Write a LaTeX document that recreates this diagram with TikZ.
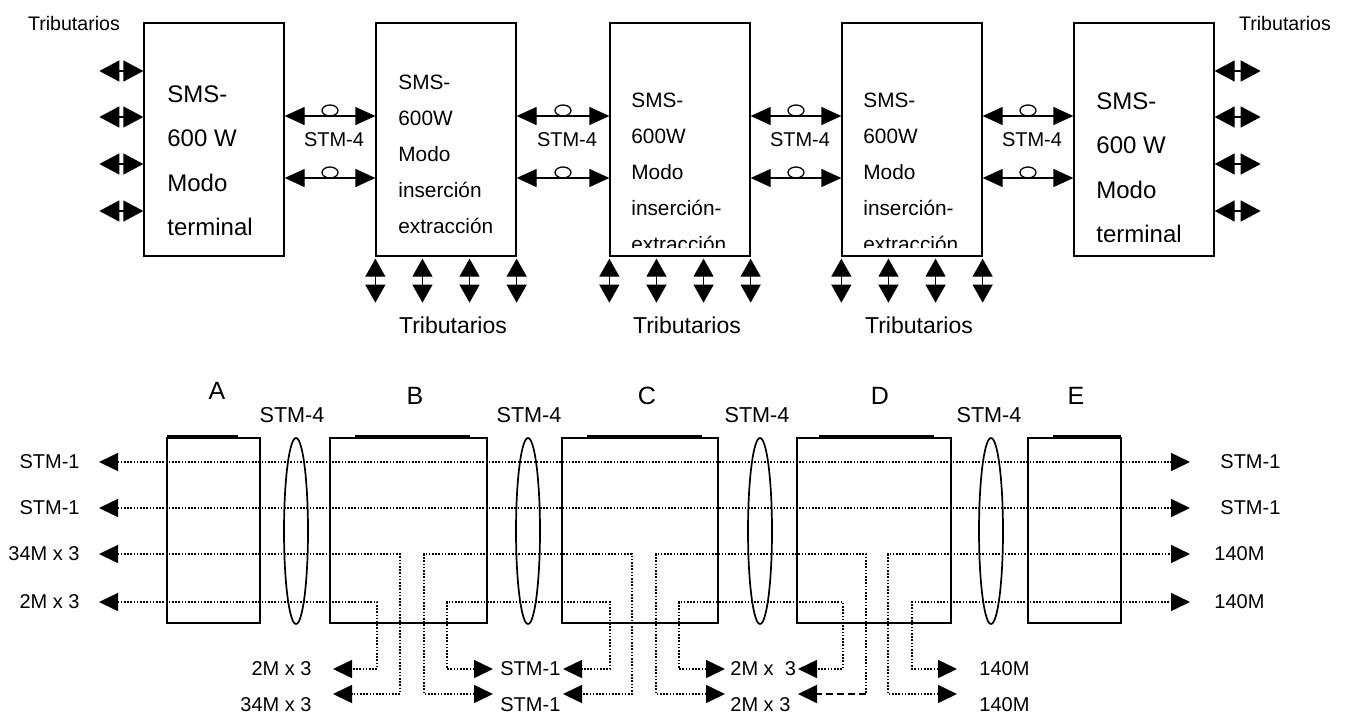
\documentclass[tikz,border=0pt]{standalone}
\usepackage{fontspec}
\setmainfont{Liberation Sans}
\usetikzlibrary{arrows.meta,calc,positioning,shapes.geometric}

\begin{document}
\begin{tikzpicture}[x=0.5pt,y=-0.5pt,
  bigtri/.tip={Triangle[length=10pt,width=10.5pt]},
  midtri/.tip={Triangle[length=10pt,width=9pt]},
  vtri/.tip={Triangle[length=9pt,width=10pt]},
  smtri/.tip={Triangle[length=9.5pt,width=9pt]},
  smsbox/.style={draw,line width=0.65pt,minimum width=70pt,minimum height=116.5pt,inner sep=0pt},
  bigtxt/.style={anchor=north west,inner sep=0pt,align=left,font=\fontsize{12pt}{22.25pt}\selectfont},
  smtxt/.style={anchor=north west,inner sep=0pt,align=left,font=\fontsize{10.4pt}{18pt}\selectfont},
  bidir/.style={line width=0.65pt,bigtri-bigtri},
  vbidir/.style={line width=0.65pt,vtri-vtri},
  link/.style={line width=0.65pt,midtri-midtri},
  ring/.style={draw,ellipse,line width=0.65pt,minimum width=8pt,minimum height=5.5pt,inner sep=0pt,outer sep=0pt,above},
  trib/.style={font=\fontsize{9.8pt}{12pt}\selectfont},
  tribbig/.style={font=\fontsize{11.5pt}{14pt}\selectfont},
  stmtop/.style={font=\fontsize{10pt}{12pt}\selectfont},
  unit/.style={draw,line width=0.85pt,minimum height=92.5pt,inner sep=0pt},
  lens/.style={draw,ellipse,line width=0.85pt,minimum width=12pt,minimum height=93pt,inner sep=0pt},
  dline/.style={line width=0.75pt,dash pattern=on 0.8pt off 0.8pt},
  dashline/.style={line width=0.9pt,dash pattern=on 3.5pt off 2pt},
  lbl/.style={font=\fontsize{10pt}{12pt}\selectfont,inner sep=0pt},
  letter/.style={font=\fontsize{12.5pt}{15pt}\selectfont},
  stm/.style={font=\fontsize{10.8pt}{13pt}\selectfont}]
\useasboundingbox (0,0) rectangle (1350,713);
\clip (0,0) rectangle (1350,713);

\foreach \n/\x in {1/214,2/446,3/680,4/912,5/1144}
  \node[smsbox] (sms\n) at (\x,139.5) {};

\node[bigtxt] (txt1) at (167,85) {SMS-\\600 W\\Modo\\terminal};
\node[smtxt] (txt2) at (398,75) {SMS-\\600W\\Modo\\inserción\\extracción};
\begin{scope}
\clip (sms3.north west) rectangle ($(sms3.south east)+(0,-9)$);
\node[smtxt] (txt3) at (631,93) {SMS-\\600W\\Modo\\inserción-\\extracción};
\end{scope}
\begin{scope}
\clip (sms4.north west) rectangle ($(sms4.south east)+(0,-9)$);
\node[smtxt] (txt4) at (863,93) {SMS-\\600W\\Modo\\inserción-\\extracción};
\end{scope}
\node[bigtxt] (txt5) at (1096,92) {SMS-\\600 W\\Modo\\terminal};

\node[trib] (tribL) at (74,23) {Tributarios};
\node[trib] (tribR) at (1285,23) {Tributarios};

\foreach \dy in {34.25,11.25,-12.25,-35.75} {
  \draw[bidir] ([yshift=\dy pt]sms1.west) -- ++(-44,0);
  \draw[bidir] ([yshift=\dy pt]sms5.east) -- ++(46,0);
}

\foreach \a/\b in {1/2,2/3,3/4,4/5} {
  \draw[link] ([yshift=11.75pt]sms\a.east) -- node[ring] (ringA\a) {} ([yshift=11.75pt]sms\b.west);
  \draw[link] ([yshift=-19.25pt]sms\a.east) -- node[ring] (ringB\a) {} ([yshift=-19.25pt]sms\b.west);
  \node[stmtop] (stmtop\a) at ($(sms\a.east)!.5!(sms\b.west)+(4,0)$) {STM-4};
}

\foreach \n in {2,3,4} {
  \foreach \k in {0,1,2,3}
    \draw[vbidir] ($(sms\n.south west)!\k/3!(sms\n.south east)+(0,2)$) -- ++(0,44);
  \node[tribbig] (trib\n) at ($(sms\n.south)+(7,69)$) {Tributarios};
}

\foreach \n/\x/\w in {A/213.5/46.5,B/408.5/78.5,C/640/78,D/874/77,E/1074.5/46.5}
  \node[unit,minimum width=\w pt] (u\n) at (\x,530.5) {};
\foreach \a/\b in {167/238,355/470,587/702,819/934,1053/1121}
  \draw[line width=0.85pt] (\a,436) -- (\b,436);
\foreach \x [count=\i] in {296,528,760,991}
  \node[lens] (lens\i) at (\x,531) {};

\begin{scope}
\clip (0,0) rectangle (1350,405);
\foreach \t/\x/\y in {A/217/391,B/415/396,C/647/396,D/880/396,E/1076/396}
  \node[letter] (let\t) at (\x,\y) {\t};
\end{scope}
\foreach \x [count=\i] in {292,529,757,989}
  \node[stm] (stm\i) at (\x,415) {STM-4};

\foreach \y [count=\i] in {462,508,554,602} {
  \coordinate (l\i) at (99,\y);
  \coordinate (r\i) at (1190,\y);
}
\foreach \n/\p/\q in {1/333/493,2/563/725,3/798/957} {
  \coordinate (pa\n) at (\p,669);
  \coordinate (pb\n) at (\p,694);
  \coordinate (qa\n) at (\q,669);
  \coordinate (qb\n) at (\q,694);
}

\draw[dline,smtri-smtri] (l1) -- (r1);
\draw[dline,smtri-smtri] (l2) -- (r2);
\draw[dline,smtri-smtri] (l3) -- ++(301,0) |- (pb1);
\draw[dline,smtri-smtri] (l4) -- ++(278,0) |- (pa1);
\draw[dline,smtri-smtri] (qb1) -| ++(-69,-140) -- ++(208,0) |- (pb2);
\draw[dline,smtri-smtri] (qa1) -| ++(-46,-67) -- ++(163,0) |- (pa2);
\draw[dline,smtri-] (qb2) -| ++(-69,-140) -- ++(210,0) -- ++(0,140) coordinate (dd);
\draw[dashline,-smtri] (dd) -- (pb3);
\draw[dline,smtri-smtri] (qa2) -| ++(-46,-67) -- ++(164,0) |- (pa3);
\draw[dline,smtri-smtri] (qb3) -| ++(-69,-140) -- (r3);
\draw[dline,smtri-smtri] (qa3) -| ++(-45,-67) -- (r4);

\node[lbl,left=9.5pt of l1] (lblL1) {STM-1};
\node[lbl,left=9.5pt of l2] (lblL2) {STM-1};
\node[lbl,left=9.5pt of l3] (lblL3) {34M x 3};
\node[lbl,left=9.5pt of l4] (lblL4) {2M x 3};
\node[lbl,right=15pt of r1] (lblR1) {STM-1};
\node[lbl,right=15pt of r2] (lblR2) {STM-1};
\node[lbl,right=12pt of r3] (lblR3) {140M};
\node[lbl,right=12pt of r4] (lblR4) {140M};

\node[lbl,left=10.5pt of pa1] (lblP1) {2M x 3};
\node[lbl,left=10.5pt of pb1,yshift=-5.5pt] (lblP2) {34M x 3};
\node[lbl,right=3.5pt of qa1] (lblQ1) {STM-1};
\node[lbl,right=3.5pt of qb1,yshift=-5.5pt] (lblQ2) {STM-1};
\node[lbl,right=2.5pt of qa2] (lblQ3) {2M x\ \ 3};
\node[lbl,right=2.5pt of qb2,yshift=-5.5pt] (lblQ4) {2M x 3};
\node[lbl,right=11pt of qa3] (lblQ5) {140M};
\node[lbl,right=11pt of qb3,yshift=-5.5pt] (lblQ6) {140M};
\end{tikzpicture}
\end{document}
